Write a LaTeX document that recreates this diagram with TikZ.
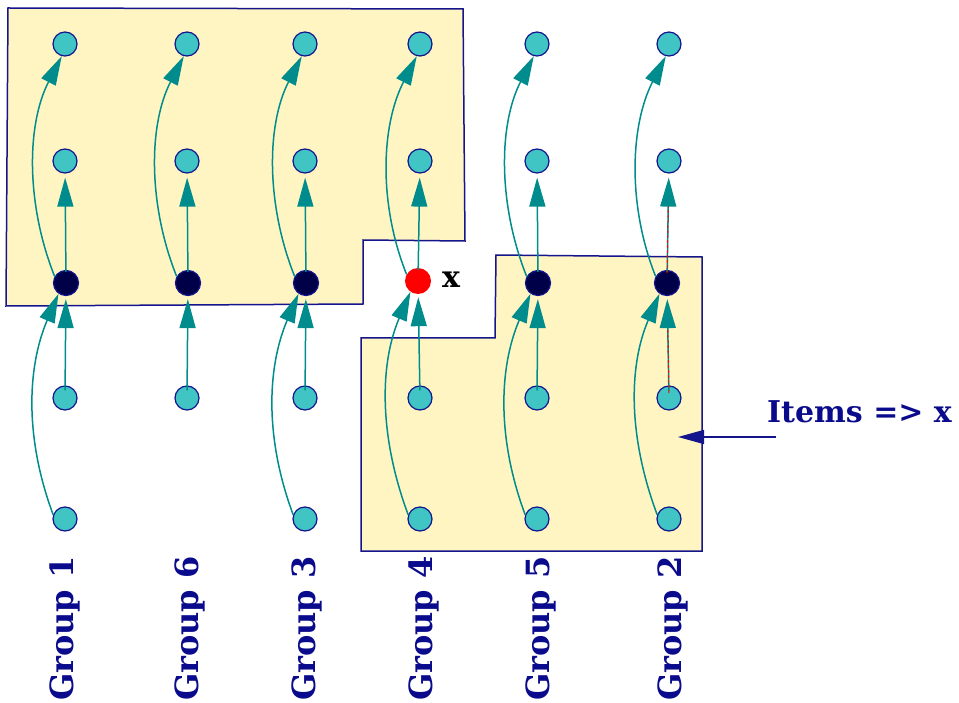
\documentclass[tikz,border=0pt]{standalone}
\usepackage{fontspec}
\setmainfont{DejaVu Serif}
\usetikzlibrary{arrows.meta}

\definecolor{navyline}{RGB}{20,20,140}
\definecolor{labelnavy}{RGB}{10,10,140}
\definecolor{cyanfill}{RGB}{64,196,196}
\definecolor{darkhub}{RGB}{0,0,72}
\definecolor{flowteal}{RGB}{0,140,140}
\definecolor{regionfill}{RGB}{255,245,194}

\tikzset{
  item/.style={circle, draw=navyline, fill=cyanfill, line width=1.2pt, minimum size=24pt, inner sep=0pt},
  hub/.style={circle, draw=navyline, fill=darkhub, line width=1.2pt, minimum size=25pt, inner sep=0pt},
  pick/.style={circle, fill=red, minimum size=26pt, inner sep=0pt},
  flow/.style={draw=flowteal, line width=1.5pt, -{Triangle[length=29pt,width=16pt]}},
  overlay/.style={draw=red, densely dashed, line width=0.9pt},
  region/.style={fill=regionfill, draw=navyline, line width=1.5pt},
  bigtext/.style={inner sep=0pt, font=\bfseries\fontsize{30}{36}\selectfont},
  grouplabel/.style={inner sep=0pt, font=\bfseries\fontsize{32}{38}\selectfont, rotate=90, anchor=west, text=labelnavy}
}

\begin{document}
\begin{tikzpicture}[x=1pt, y=-1pt]
  \useasboundingbox (0,0) rectangle (959,703);

  % shaded item sets
  \draw[region] (8,8) -- (463,9) -- (465,241) -- (363,240) -- (363,304) -- (6,306) -- cycle;
  \draw[region] (496,255) -- (702,257) -- (702,551) -- (361,551) -- (361,338) -- (495,338) -- cycle;

  % columns of items
  \foreach \i/\x in {1/65, 6/187, 3/305, 4/420, 5/537, 2/669} {
    \node[item] (t\i) at (\x,44) {};
    \node[item] (m\i) at (\x,161) {};
    \node[item] (l\i) at (\x,398) {};
  }
  \foreach \i/\x in {1/65, 3/305, 4/420, 5/537, 2/669}
    \node[item] (b\i) at (\x,519) {};
  \foreach \i/\x in {1/66, 6/188, 3/306, 5/538, 2/667}
    \node[hub] (h\i) at (\x,283) {};
  \node[pick] (h4) at (418,281) {};
  \node[bigtext, anchor=base west] (xlabel) at (442,288) {x};

  % straight links
  \foreach \i in {1,6,3,4,5,2} {
    \draw[flow, shorten <=-5pt, shorten >=3pt] (l\i) -- (h\i);
    \draw[flow, shorten <=-2pt, shorten >=4pt] (h\i) -- (m\i);
  }
  % curved links
  \foreach \i in {1,3,4,5,2}
    \draw[flow] (b\i.160) .. controls +(-28,-75) and +(-32,75) .. (h\i.235);
  \foreach \i in {1,6,3,4,5,2}
    \draw[flow] (h\i.150) .. controls +(-28,-70) and +(-36,70) .. (t\i.255);

  % highlighted path in group 2
  \draw[overlay, shorten <=5pt, shorten >=32pt] (l2.center) -- (h2);
  \draw[overlay, shorten <=10pt, shorten >=33pt] (h2.center) -- (m2);

  % pointer to the lower set
  \node[bigtext, anchor=base west, text=labelnavy] (items) at (767,422) {Items => x};
  \coordinate (pstart) at (776,437);
  \coordinate (pend) at (678,437);
  \draw[draw=navyline, line width=1.5pt, -{Triangle[length=26pt,width=14pt]}] (pstart) -- (pend);

  % group labels
  \node[grouplabel] (g1) at (65,701) {Group 1};
  \node[grouplabel] (g6) at (190,701) {Group 6};
  \node[grouplabel] (g3) at (307,701) {Group 3};
  \node[grouplabel] (g4) at (424,701) {Group 4};
  \node[grouplabel] (g5) at (541,701) {Group 5};
  \node[grouplabel] (g2) at (673,701) {Group 2};
\end{tikzpicture}
\end{document}
